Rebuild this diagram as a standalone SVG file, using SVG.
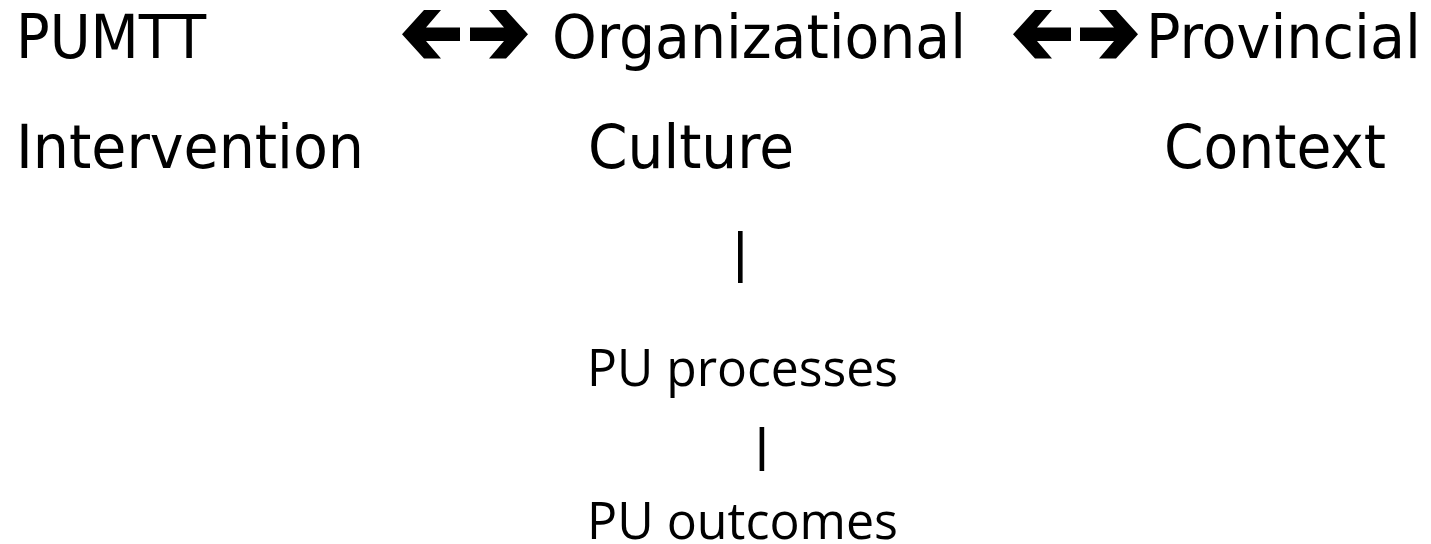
<svg xmlns="http://www.w3.org/2000/svg" width="1431" height="544" viewBox="0 0 1431 544">
  <style>
    .top { font-family: "DejaVu Sans Condensed", "DejaVu Sans", sans-serif; font-stretch: condensed; font-size: 60px; fill: #000; }
    .low { font-family: "Open Sans", "Noto Sans", sans-serif; font-size: 52px; fill: #000; }
    .bar { fill: #000; }
    .arrow { fill: #000; }
  </style>
  <defs>
    <!-- bold left-pointing arrow, tip at origin, centred on y=0 -->
    <path id="arrowL" d="M0,0 L22,-24.3 L39,-24.3 L24,-6.7 L58,-6.7 L58,6.7 L24,6.7 L39,24.3 L22,24.3 Z"/>
  </defs>
  <rect width="1431" height="544" fill="#fff"/>

  <g id="connectors">
    <!-- double arrow: intervention <-> culture -->
    <use href="#arrowL" class="arrow" transform="translate(402,34.3)"/>
    <use href="#arrowL" class="arrow" transform="translate(528,34.3) scale(-1,1)"/>
    <!-- double arrow: culture <-> context -->
    <use href="#arrowL" class="arrow" transform="translate(1013,34.3)"/>
    <use href="#arrowL" class="arrow" transform="translate(1138,34.3) scale(-1,1)"/>
    <!-- vertical links -->
    <rect class="bar" x="738" y="231" width="4.6" height="52"/>
    <rect class="bar" x="759.6" y="427" width="4.6" height="44"/>
  </g>

  <g id="node-intervention">
    <text class="top" x="16" y="57.5" textLength="190" lengthAdjust="spacingAndGlyphs">PUMTT</text>
    <text class="top" x="16" y="168" textLength="348" lengthAdjust="spacingAndGlyphs">Intervention</text>
  </g>
  <g id="node-culture">
    <text class="top" x="552" y="57.5" textLength="414" lengthAdjust="spacingAndGlyphs">Organizational</text>
    <text class="top" x="588" y="168" textLength="206" lengthAdjust="spacingAndGlyphs">Culture</text>
  </g>
  <g id="node-context">
    <text class="top" x="1146" y="57.5" textLength="275" lengthAdjust="spacingAndGlyphs">Provincial</text>
    <text class="top" x="1164" y="168" textLength="222" lengthAdjust="spacingAndGlyphs">Context</text>
  </g>
  <g id="node-processes">
    <text class="low" x="587" y="386" textLength="311" lengthAdjust="spacingAndGlyphs">PU processes</text>
  </g>
  <g id="node-outcomes">
    <text class="low" x="587" y="539" textLength="311" lengthAdjust="spacingAndGlyphs">PU outcomes</text>
  </g>
</svg>
